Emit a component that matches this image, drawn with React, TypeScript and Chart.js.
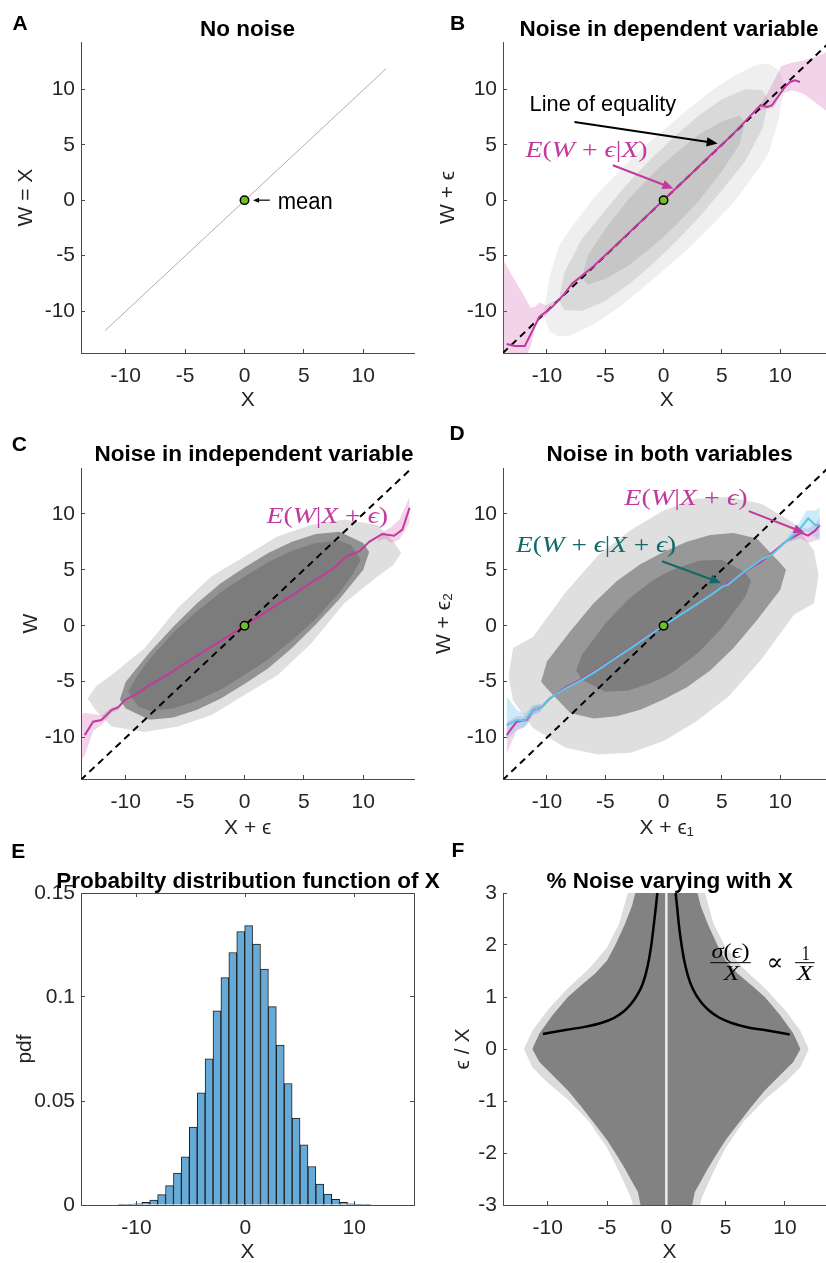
import React, { useEffect, useRef } from 'react';
import { Chart, registerables } from 'chart.js';

Chart.register(...registerables);

const SANS = "'Liberation Sans', Arial, Helvetica, sans-serif";
const SERIF = "'Liberation Serif', 'DejaVu Serif', 'Times New Roman', serif";
const AXIS = '#4a4a4a';
const TXT = '#262626';
const MAGENTA = 'rgb(194,58,158)';
const PINK_BAND = 'rgba(205,80,170,0.25)';
const CYAN = 'rgb(88,200,232)';
const BLUE_BAND = 'rgba(110,195,235,0.35)';
const TEAL = 'rgb(18,105,105)';
const GREEN = 'rgb(112,190,40)';

// ---------- axis ranges & ticks ----------
const X_RANGE = [-13.77, 14.3];
const AB_Y_RANGE = [-13.78, 14.26];
const CD_Y_RANGE = [-13.7, 14.1];
const E_X_RANGE = [-15.1, 15.5];
const E_Y_RANGE = [0, 0.15];
const F_Y_RANGE = [-3, 3];

const xyTicks = [-10, -5, 0, 5, 10];
const xyTickLabels = ['-10', '-5', '0', '5', '10'];
const eXTicks = [-10, 0, 10];
const eXTickLabels = ['-10', '0', '10'];
const eYTicks = [0, 0.05, 0.1, 0.15];
const eYTickLabels = ['0', '0.05', '0.1', '0.15'];
const fYTicks = [-3, -2, -1, 0, 1, 2, 3];
const fYTickLabels = ['-3', '-2', '-1', '0', '1', '2', '3'];

// ---------- panel A ----------
const aLineX = [-11.75, 11.93];
const aLineY = [-11.77, 11.86];
const meanX = [0];
const meanY = [0];

// ---------- equality line (B, C, D) ----------
const eqX = [-13.8, 14.3];
const eqY = [-13.8, 14.3];

// ---------- panel B (cloud envelopes: sparse, mid, dense) ----------
const bFringeX = [-10.3, -9.8, -9, -8, -6, -4, -2, 0, 2, 4, 6, 8, 9, 9.8, 10.4];
const bFringeUp = [-10.3, -7.0, -4.2, -2.6, 0.2, 2.4, 4.5, 6.3, 8.1, 9.8, 11.2, 12.2, 12.3, 11.8, 10.4];
const bFringeLo = [-10.3, -11.8, -12.3, -12.2, -11.2, -9.8, -8.1, -6.3, -4.5, -2.4, -0.2, 2.6, 4.2, 7.0, 10.4];
const bMidX = [-9, -8.5, -7, -5, -3, -1, 0, 1, 3, 5, 7, 8.5, 9];
const bMidUp = [-9, -6.5, -3.5, -0.9, 1.6, 3.8, 4.8, 5.8, 7.6, 9.1, 10.0, 9.9, 9];
const bMidLo = [-9, -9.9, -10.0, -9.1, -7.6, -5.8, -4.8, -3.8, -1.6, 0.9, 3.5, 6.5, 9];
const bCoreX = [-7, -6.5, -5, -3, -1, 0, 1, 3, 5, 6.5, 7];
const bCoreUp = [-7, -5.0, -2.6, 0.1, 2.3, 3.3, 4.2, 5.9, 7.1, 7.6, 7];
const bCoreLo = [-7, -7.6, -7.1, -5.9, -4.2, -3.3, -2.3, -0.1, 2.6, 5.0, 7];
const bBandLX = [-13.8, -13.0, -12.2, -11.4, -11.0, -10.6, -10.1, -9.3];
const bBandLUp = [-5.3, -6.8, -8.2, -9.7, -9.6, -9.2, -9.5, -9.1];
const bBandLLo = [-15, -15, -15, -13.2, -11.3, -10.8, -10.4, -9.4];
const bBandRX = [7.9, 8.6, 9.4, 10.1, 11.0, 12.0, 13.0, 14.3];
const bBandRUp = [8.1, 9.1, 10.6, 12.1, 12.4, 12.6, 12.9, 13.5];
const bBandRLo = [8.0, 8.2, 8.3, 9.6, 9.9, 9.6, 8.8, 7.8];
const bMeanX = [-13.46, -12.75, -11.9, -11.35, -10.65, -10.08, -9.52, -8.5, -7.84, -7.27, -6, -4, -2, 0, 2, 4, 6, 7, 7.62, 8.32, 8.9, 9.3, 10.4, 10.85, 11.27, 11.7];
const bMeanY = [-12.97, -13.15, -13.15, -12.0, -10.5, -10.07, -9.6, -8.45, -7.5, -7.05, -5.95, -3.97, -1.98, 0.02, 2.0, 4.02, 6.0, 7.1, 7.8, 8.56, 8.4, 8.56, 10.2, 10.66, 10.8, 10.66];

// ---------- panel C ----------
const cFringeX = [-13.2, -12.5, -11.2, -8.4, -5.6, -2.8, 0, 2.8, 5.6, 8.4, 11.2, 12.5, 13.2];
const cFringeUp = [-6.5, -5.4, -4.4, -2.0, 1.6, 4.4, 6.2, 8.0, 9.0, 9.5, 9.0, 7.6, 6.5];
const cFringeLo = [-6.5, -7.6, -9.0, -9.5, -9.0, -8.0, -6.2, -4.4, -1.6, 2.0, 4.4, 5.4, 6.5];
const cMidX = [-10.5, -10, -8, -6, -4, -2, 0, 2, 4, 6, 8, 10, 10.5];
const cMidUp = [-6.6, -5.0, -2.4, -0.1, 2.0, 3.8, 5.2, 6.5, 7.5, 8.2, 8.4, 7.4, 6.6];
const cMidLo = [-6.6, -7.4, -8.4, -8.2, -7.5, -6.5, -5.2, -3.8, -2.0, 0.1, 2.4, 5.0, 6.6];
const cCoreX = [-9.8, -9, -8, -6, -4, -2, 0, 2, 4, 6, 8, 9, 9.8];
const cCoreUp = [-5.9, -4.4, -3.0, -0.6, 1.3, 3.0, 4.4, 5.7, 6.7, 7.4, 7.6, 7.2, 5.9];
const cCoreLo = [-5.9, -7.2, -7.6, -7.4, -6.7, -5.7, -4.4, -3.0, -1.3, 0.6, 3.0, 4.4, 5.9];
const cBandLX = [-13.75, -13.45, -12.75, -12.05, -11.2, -10.6];
const cBandLUp = [-7.9, -7.8, -7.9, -8.0, -7.3, -7.1];
const cBandLLo = [-12.0, -11.6, -9.4, -8.9, -7.8, -7.5];
const cBandRX = [11.2, 11.8, 12.35, 13.05, 13.9];
const cBandRUp = [7.8, 8.5, 8.8, 9.5, 11.5];
const cBandRLo = [7.5, 7.8, 7.4, 7.7, 9.2];
const cMeanX = [-13.45, -12.75, -12.05, -11.2, -10.64, -10.08, -9, -8, -7.5, -7, -6, -5, -4, -3, -2, -1, 0, 1, 2, 3, 4, 5, 5.6, 6.5, 7.3, 7.85, 8.57, 9.69, 10.5, 11.6, 12.6, 13.3, 13.9];
const cMeanY = [-9.78, -8.58, -8.43, -7.54, -7.3, -6.64, -6.05, -5.3, -5.0, -4.7, -4.05, -3.35, -2.7, -2.0, -1.35, -0.68, 0, 0.68, 1.37, 2.05, 2.72, 3.42, 3.83, 4.45, 5.0, 5.47, 6.2, 6.67, 7.5, 8.2, 8.05, 8.6, 10.55];

// ---------- panel D ----------
const dFringeX = [-13.3, -12.9, -11.2, -8.4, -5.6, -2.8, 0, 2.8, 5.6, 8.4, 11.2, 12.9, 13.3];
const dFringeUp = [-4.5, -2.0, -1.0, 3.0, 6.3, 8.55, 10.3, 11.35, 11.5, 10.9, 9.15, 6.7, 4.5];
const dFringeLo = [-4.5, -6.7, -9.15, -10.9, -11.5, -11.35, -10.3, -8.55, -6.3, -3.0, 1.0, 2.0, 4.5];
const dMidX = [-10.5, -10, -8, -6, -4, -2, 0, 2, 4, 6, 8, 10, 10.5];
const dMidUp = [-5.0, -3.2, -0.5, 2.0, 4.0, 5.5, 6.6, 7.5, 8.1, 8.3, 7.8, 5.6, 5.0];
const dMidLo = [-5.0, -5.6, -7.8, -8.3, -8.1, -7.5, -6.6, -5.5, -4.0, -2.0, 0.5, 3.2, 5.0];
const dCoreX = [-7.5, -7, -5, -3, -1, 0, 1, 3, 5, 7, 7.5];
const dCoreUp = [-4.0, -2.6, 0.2, 2.4, 4.0, 4.6, 5.1, 5.8, 5.9, 4.8, 4.0];
const dCoreLo = [-4.0, -4.8, -5.9, -5.8, -5.1, -4.6, -4.0, -2.4, -0.2, 2.6, 4.0];
const dBlueLX = [-13.46, -12.6, -11.9, -11.2, -10.5];
const dBlueLUp = [-6.3, -7.5, -7.9, -7.1, -7.0];
const dBlueLLo = [-10.2, -9.3, -9.1, -8.0, -7.7];
const dBlueRX = [10.7, 11.56, 12.26, 12.96, 13.4];
const dBlueRUp = [8.0, 9.1, 10.3, 10.3, 10.6];
const dBlueRLo = [7.4, 7.9, 8.5, 7.9, 7.8];
const dPinkLX = [-13.46, -12.6, -11.76, -11.2, -10.5];
const dPinkLUp = [-8.6, -8.1, -8.1, -7.2, -7.0];
const dPinkLLo = [-11.4, -9.4, -8.9, -7.9, -7.6];
const dPinkRX = [10.7, 11.8, 12.4, 13.0, 13.4];
const dPinkRUp = [7.9, 8.7, 8.7, 9.1, 9.7];
const dPinkRLo = [7.5, 7.8, 7.4, 7.6, 7.7];
const dMagX = [-13.46, -12.6, -11.76, -11.2, -10.5, -9.8, -8.4, -7.0, -5.6, -4.2, -2.8, -1.4, 0, 1.4, 2.8, 4.2, 5.08, 6.8, 7.6, 8.4, 9.3, 10.7, 11.8, 12.4, 13.0, 13.4];
const dMagY = [-9.78, -8.58, -8.43, -7.54, -7.33, -6.55, -5.5, -4.75, -3.88, -2.9, -1.95, -0.95, 0, 0.98, 1.9, 2.85, 3.5, 4.65, 5.25, 5.75, 6.5, 7.7, 8.3, 8.05, 8.5, 9.0];
const dCyanX = [-13.46, -12.6, -11.9, -11.21, -10.5, -9.8, -8.4, -7.0, -5.6, -4.2, -2.8, -1.4, 0, 1.4, 2.8, 4.2, 5.08, 5.5, 6.8, 8.4, 9.3, 10.7, 11.56, 12.4, 13.0, 13.4];
const dCyanY = [-8.88, -8.43, -8.52, -7.54, -7.33, -6.5, -5.59, -4.84, -3.95, -2.95, -2.0, -0.98, 0, 0.95, 1.88, 2.85, 3.52, 3.65, 4.73, 5.92, 6.37, 7.7, 8.46, 9.6, 9.0, 9.0];

// ---------- panel E (histogram of X) ----------
const eBinCenter = [-11.329, -10.602, -9.875, -9.148, -8.421, -7.694, -6.967, -6.240, -5.513, -4.786, -4.059, -3.332, -2.605, -1.878, -1.151, -0.424, 0.303, 1.030, 1.757, 2.484, 3.211, 3.938, 4.665, 5.392, 6.119, 6.846, 7.573, 8.300, 9.027, 9.754, 10.481, 11.208];
const eBinPdf = [0.0002, 0.0003, 0.0006, 0.0013, 0.0024, 0.0050, 0.0093, 0.0153, 0.0232, 0.0375, 0.0539, 0.0703, 0.0933, 0.1093, 0.1214, 0.1315, 0.1343, 0.1254, 0.1134, 0.0954, 0.0769, 0.0584, 0.0418, 0.0289, 0.0185, 0.0101, 0.0053, 0.0027, 0.0013, 0.0006, 0.0003, 0.0002];

// ---------- panel F ----------
const fFringeX = [-12.0, -11.3, -10, -8.4, -6.5, -5, -4, -3.0, -2.6, 0, 2.6, 3.0, 4, 5, 6.5, 8.4, 10, 11.3, 12.0];
const fFringeUp = [0, 0.35, 0.75, 1.15, 1.55, 1.95, 2.4, 3.2, 3.2, 3.2, 3.2, 3.2, 2.4, 1.95, 1.55, 1.15, 0.75, 0.35, 0];
const fFringeLo = [0, -0.35, -0.65, -0.95, -1.4, -1.9, -2.35, -2.85, -3.2, -3.2, -3.2, -2.85, -2.35, -1.9, -1.4, -0.95, -0.65, -0.35, 0];
const fCoreX = [-11.3, -10.7, -9.6, -8.3, -7.2, -6, -5, -4.3, -3.5, -2.9, -2.4, -2.0, 0, 2.0, 2.4, 2.9, 3.5, 4.3, 5, 6, 7.2, 8.3, 9.6, 10.7, 11.3];
const fCoreUp = [0, 0.3, 0.65, 1.0, 1.22, 1.45, 1.7, 2.0, 2.4, 2.75, 3.2, 3.2, 3.2, 3.2, 3.2, 2.75, 2.4, 2.0, 1.7, 1.45, 1.22, 1.0, 0.65, 0.3, 0];
const fCoreLo = [0, -0.25, -0.5, -0.8, -1.1, -1.45, -1.75, -2.0, -2.3, -2.55, -2.75, -3.2, -3.2, -3.2, -2.75, -2.55, -2.3, -2.0, -1.75, -1.45, -1.1, -0.8, -0.5, -0.25, 0];
const fStripeX = [0, 0];
const fStripeY = [-3, 3];
const fLeftX = [-10.4, -8.4, -6.8, -5.5, -4.4, -3.6, -3.0, -2.5, -2.0, -1.6, -1.3, -1.05, -0.9, -0.76];
const fLeftY = [0.29, 0.37, 0.43, 0.5, 0.6, 0.72, 0.86, 1.02, 1.25, 1.57, 1.95, 2.4, 2.7, 3.0];
const fRightX = [0.78, 0.9, 1.05, 1.3, 1.6, 2.0, 2.5, 3.0, 3.6, 4.4, 5.5, 6.8, 8.4, 10.4];
const fRightY = [3.0, 2.75, 2.4, 1.97, 1.6, 1.28, 1.04, 0.88, 0.74, 0.61, 0.5, 0.42, 0.36, 0.28];

// ---------- helpers ----------
type Part = { t: string; i?: boolean; f?: string };
type Note =
  | { kind: 'text'; x: number; y: number; parts: Part[]; size: number; width?: number; color: string; align?: 'left' | 'center' }
  | { kind: 'arrow'; x1: number; y1: number; x2: number; y2: number; color: string; lw: number; head: number }
  | { kind: 'rule'; x1: number; x2: number; y: number; color: string; lw: number };

const pts = (xs: number[], ys: number[]) => xs.map((x, i) => ({ x, y: ys[i] }));

const lineDs = (xs: number[], ys: number[], color: string, width: number, extra: any = {}) => ({
  type: 'line',
  data: pts(xs, ys),
  borderColor: color,
  borderWidth: width,
  pointRadius: 0,
  fill: false,
  tension: 0,
  ...extra,
});

const areaDs = (xs: number[], up: number[], lo: number[], color: string) => [
  { type: 'line', data: pts(xs, up), borderColor: 'rgba(0,0,0,0)', borderWidth: 0, pointRadius: 0, fill: false },
  { type: 'line', data: pts(xs, lo), borderColor: 'rgba(0,0,0,0)', borderWidth: 0, pointRadius: 0, fill: '-1', backgroundColor: color },
];

const meanDs = () => ({
  type: 'line',
  data: pts(meanX, meanY),
  showLine: false,
  pointRadius: 4.2,
  pointBackgroundColor: GREEN,
  pointBorderColor: '#000',
  pointBorderWidth: 1.5,
});

const withOrder = (ds: any[]) => ds.map((d, i) => ({ ...d, order: ds.length - i }));

function drawParts(ctx: CanvasRenderingContext2D, n: any, px: number, py: number) {
  const fonts = n.parts.map((p: Part) => `${p.i ? 'italic ' : ''}${n.size}px ${p.f ?? SERIF}`);
  const widths = n.parts.map((p: Part, k: number) => {
    ctx.font = fonts[k];
    return ctx.measureText(p.t).width;
  });
  const total = widths.reduce((a: number, b: number) => a + b, 0);
  const sx = n.width ? n.width / total : 1;
  const x0 = n.align === 'center' ? px - (total * sx) / 2 : px;
  ctx.save();
  ctx.fillStyle = n.color;
  ctx.textBaseline = 'alphabetic';
  ctx.textAlign = 'left';
  ctx.translate(x0, py);
  ctx.scale(sx, 1);
  let cx = 0;
  n.parts.forEach((p: Part, k: number) => {
    ctx.font = fonts[k];
    ctx.fillText(p.t, cx, 0);
    cx += widths[k];
  });
  ctx.restore();
}

const notesPlugin = (notes: Note[]) => ({
  id: 'notes',
  afterDatasetsDraw(chart: any) {
    const { ctx } = chart;
    const sx = chart.scales.x;
    const sy = chart.scales.y;
    const X = (v: number) => sx.getPixelForValue(v);
    const Y = (v: number) => sy.getPixelForValue(v);
    ctx.save();
    for (const n of notes) {
      if (n.kind === 'text') {
        drawParts(ctx, n, X(n.x), Y(n.y));
      } else if (n.kind === 'rule') {
        ctx.strokeStyle = n.color;
        ctx.lineWidth = n.lw;
        ctx.beginPath();
        ctx.moveTo(X(n.x1), Y(n.y));
        ctx.lineTo(X(n.x2), Y(n.y));
        ctx.stroke();
      } else {
        const x1 = X(n.x1), y1 = Y(n.y1), x2 = X(n.x2), y2 = Y(n.y2);
        const a = Math.atan2(y2 - y1, x2 - x1);
        const c = Math.cos(a), s = Math.sin(a);
        ctx.strokeStyle = n.color;
        ctx.fillStyle = n.color;
        ctx.lineWidth = n.lw;
        ctx.beginPath();
        ctx.moveTo(x1, y1);
        ctx.lineTo(x2 - c * n.head * 0.7, y2 - s * n.head * 0.7);
        ctx.stroke();
        const hw = n.head * 0.42;
        ctx.beginPath();
        ctx.moveTo(x2, y2);
        ctx.lineTo(x2 - n.head * c + hw * s, y2 - n.head * s - hw * c);
        ctx.lineTo(x2 - n.head * c - hw * s, y2 - n.head * s + hw * c);
        ctx.closePath();
        ctx.fill();
      }
    }
    ctx.restore();
  },
});

type AxisOpts = {
  pos: 'left' | 'bottom' | 'top' | 'right';
  range: number[];
  ticks: number[];
  labels: string[];
  size: number;
  showLabels: boolean;
  title?: string;
  titlePad?: number;
  labelPad?: number;
};

function axis(o: AxisOpts) {
  const horizontal = o.pos === 'bottom' || o.pos === 'top';
  return {
    type: 'linear',
    position: o.pos,
    min: o.range[0],
    max: o.range[1],
    offset: false,
    afterBuildTicks: (s: any) => {
      s.ticks = o.ticks.map((v) => ({ value: v }));
    },
    afterFit: (s: any) => {
      if (horizontal) s.height = o.size;
      else s.width = o.size;
      s.paddingLeft = 0;
      s.paddingRight = 0;
      s.paddingTop = 0;
      s.paddingBottom = 0;
    },
    grid: { display: true, drawOnChartArea: false, drawTicks: true, tickLength: -4, tickColor: AXIS, tickWidth: 1, offset: false },
    border: { display: true, color: AXIS, width: 1 },
    ticks: {
      display: o.showLabels,
      autoSkip: false,
      maxRotation: 0,
      minRotation: 0,
      padding: o.labelPad ?? 10,
      color: TXT,
      font: { family: SANS, size: 21 },
      callback: (v: number) => {
        const i = o.ticks.indexOf(v);
        return i >= 0 ? o.labels[i] : '';
      },
    },
    title: o.title
      ? {
          display: true,
          text: o.title,
          color: TXT,
          font: { family: SANS, size: 21 },
          padding: horizontal ? { top: 0, bottom: o.titlePad ?? 0 } : { top: o.titlePad ?? 0, bottom: 0 },
        }
      : { display: false },
  };
}

type Geo = { left: number; top: number; w: number; h: number; padTop: number; padRight: number; yW: number; xH: number };

const baseOptions = (g: Geo, scales: any) => ({
  responsive: false,
  animation: false,
  devicePixelRatio: 1,
  events: [],
  layout: { padding: { left: 0, right: g.padRight, top: g.padTop, bottom: 0 } },
  plugins: { legend: { display: false }, tooltip: { enabled: false }, title: { display: false } },
  scales,
});

const X_LABEL_PAD = 15;

function scatterScales(g: Geo, yRange: number[], xTitle: string, yTitle: string, yTitlePad: number, xTitlePad: number, yTicks = xyTicks, yLabels = xyTickLabels) {
  return {
    x: axis({ pos: 'bottom', range: X_RANGE, ticks: xyTicks, labels: xyTickLabels, size: g.xH, showLabels: true, title: xTitle, titlePad: xTitlePad, labelPad: X_LABEL_PAD }),
    y: axis({ pos: 'left', range: yRange, ticks: yTicks, labels: yLabels, size: g.yW, showLabels: true, title: yTitle, titlePad: yTitlePad }),
  };
}

// ---------- geometry ----------
const GEO_A: Geo = { left: 0, top: 0, w: 420, h: 413, padTop: 42, padRight: 5, yW: 81, xH: 60 };
const GEO_B: Geo = { left: 413, top: 0, w: 423, h: 413, padTop: 42, padRight: 0, yW: 90, xH: 60 };
const GEO_C: Geo = { left: 0, top: 420, w: 420, h: 422, padTop: 48, padRight: 5, yW: 81, xH: 63 };
const GEO_D: Geo = { left: 413, top: 420, w: 423, h: 422, padTop: 48, padRight: 0, yW: 90, xH: 63 };
const GEO_E: Geo = { left: 0, top: 880, w: 420, h: 385, padTop: 13, padRight: 6, yW: 81, xH: 60 };
const GEO_F: Geo = { left: 413, top: 880, w: 423, h: 385, padTop: 13, padRight: 0, yW: 90, xH: 60 };

const eqDs = () => lineDs(eqX, eqY, '#000', 2, { borderDash: [7, 5] });

const mathEWeX: Part[] = [{ t: 'E', i: true }, { t: '(' }, { t: 'W', i: true }, { t: ' + ' }, { t: 'ϵ', i: true }, { t: '|' }, { t: 'X', i: true }, { t: ')' }];
const mathEWXe: Part[] = [{ t: 'E', i: true }, { t: '(' }, { t: 'W', i: true }, { t: '|' }, { t: 'X', i: true }, { t: ' + ' }, { t: 'ϵ', i: true }, { t: ')' }];
const mathEWeXe: Part[] = [{ t: 'E', i: true }, { t: '(' }, { t: 'W', i: true }, { t: ' + ' }, { t: 'ϵ', i: true }, { t: '|' }, { t: 'X', i: true }, { t: ' + ' }, { t: 'ϵ', i: true }, { t: ')' }];

function configA() {
  const g = GEO_A;
  return {
    type: 'line',
    data: { datasets: withOrder([lineDs(aLineX, aLineY, 'rgb(175,175,175)', 1), meanDs()]) },
    options: baseOptions(g, scatterScales(g, AB_Y_RANGE, 'X', 'W = X', 13.2, 0)),
    plugins: [
      notesPlugin([
        { kind: 'arrow', x1: 2.13, y1: 0, x2: 0.72, y2: 0, color: '#000', lw: 1.2, head: 6 },
        { kind: 'text', x: 2.8, y: -0.84, parts: [{ t: 'mean', f: SANS }], size: 23, width: 55, color: '#000' },
      ]),
    ],
  };
}

function configB() {
  const g = GEO_B;
  return {
    type: 'line',
    data: {
      datasets: withOrder([
        ...areaDs(bFringeX, bFringeUp, bFringeLo, 'rgba(190,190,190,0.25)'),
        ...areaDs(bMidX, bMidUp, bMidLo, 'rgba(190,190,190,0.45)'),
        ...areaDs(bCoreX, bCoreUp, bCoreLo, 'rgba(180,180,180,0.5)'),
        ...areaDs(bBandLX, bBandLUp, bBandLLo, PINK_BAND),
        ...areaDs(bBandRX, bBandRUp, bBandRLo, PINK_BAND),
        eqDs(),
        lineDs(bMeanX, bMeanY, MAGENTA, 2),
        meanDs(),
      ]),
    },
    options: baseOptions(g, scatterScales(g, AB_Y_RANGE, 'X', 'W + ϵ', 22.4, 0)),
    plugins: [
      notesPlugin([
        { kind: 'text', x: -11.49, y: 8.02, parts: [{ t: 'Line of equality', f: SANS }], size: 22, width: 146.6, color: '#000' },
        { kind: 'arrow', x1: -7.64, y1: 7.05, x2: 4.64, y2: 5.11, color: '#000', lw: 2, head: 11 },
        { kind: 'text', x: -11.83, y: 3.87, parts: mathEWeX, size: 23, width: 122, color: MAGENTA },
        { kind: 'arrow', x1: -4.35, y1: 3.15, x2: 0.84, y2: 1.05, color: MAGENTA, lw: 2, head: 11 },
      ]),
    ],
  };
}

function configC() {
  const g = GEO_C;
  return {
    type: 'line',
    data: {
      datasets: withOrder([
        ...areaDs(cFringeX, cFringeUp, cFringeLo, 'rgba(128,128,128,0.25)'),
        ...areaDs(cMidX, cMidUp, cMidLo, 'rgba(128,128,128,0.8)'),
        ...areaDs(cCoreX, cCoreUp, cCoreLo, 'rgba(115,115,115,0.7)'),
        ...areaDs(cBandLX, cBandLUp, cBandLLo, PINK_BAND),
        ...areaDs(cBandRX, cBandRUp, cBandRLo, PINK_BAND),
        lineDs(cMeanX, cMeanY, MAGENTA, 2),
        eqDs(),
        meanDs(),
      ]),
    },
    options: baseOptions(g, scatterScales(g, CD_Y_RANGE, 'X + ϵ', 'W', 18.9, 1)),
    plugins: [notesPlugin([{ kind: 'text', x: 1.85, y: 9.15, parts: mathEWXe, size: 23, width: 121.6, color: MAGENTA }])],
  };
}

function configD() {
  const g = GEO_D;
  return {
    type: 'line',
    data: {
      datasets: withOrder([
        ...areaDs(dFringeX, dFringeUp, dFringeLo, 'rgba(128,128,128,0.25)'),
        ...areaDs(dMidX, dMidUp, dMidLo, 'rgba(128,128,128,0.75)'),
        ...areaDs(dCoreX, dCoreUp, dCoreLo, 'rgba(115,115,115,0.7)'),
        ...areaDs(dPinkLX, dPinkLUp, dPinkLLo, PINK_BAND),
        ...areaDs(dPinkRX, dPinkRUp, dPinkRLo, PINK_BAND),
        ...areaDs(dBlueLX, dBlueLUp, dBlueLLo, BLUE_BAND),
        ...areaDs(dBlueRX, dBlueRUp, dBlueRLo, BLUE_BAND),
        eqDs(),
        lineDs(dMagX, dMagY, MAGENTA, 2),
        lineDs(dCyanX, dCyanY, CYAN, 2),
        meanDs(),
      ]),
    },
    options: baseOptions(g, scatterScales(g, CD_Y_RANGE, 'X + ϵ₁', 'W + ϵ₂', 18.4, 1)),
    plugins: [
      notesPlugin([
        { kind: 'text', x: -3.37, y: 10.76, parts: mathEWXe, size: 23, width: 123.4, color: MAGENTA },
        { kind: 'arrow', x1: 7.31, y1: 10.25, x2: 12.09, y2: 8.31, color: MAGENTA, lw: 2, head: 11 },
        { kind: 'text', x: -12.65, y: 6.57, parts: mathEWeXe, size: 23, width: 160, color: TEAL },
        { kind: 'arrow', x1: -0.13, y1: 5.77, x2: 4.92, y2: 3.83, color: TEAL, lw: 2, head: 11 },
      ]),
    ],
  };
}

function configE() {
  const g = GEO_E;
  return {
    type: 'bar',
    data: {
      datasets: [
        {
          data: pts(eBinCenter, eBinPdf),
          backgroundColor: 'rgb(102,170,215)',
          borderColor: 'rgb(30,30,30)',
          borderWidth: 1,
          barPercentage: 1,
          categoryPercentage: 1,
          grouped: false,
        },
      ],
    },
    options: baseOptions(g, {
      x: axis({ pos: 'bottom', range: E_X_RANGE, ticks: eXTicks, labels: eXTickLabels, size: g.xH, showLabels: true, title: 'X', titlePad: 0, labelPad: X_LABEL_PAD }),
      y: axis({ pos: 'left', range: E_Y_RANGE, ticks: eYTicks, labels: eYTickLabels, size: g.yW, showLabels: true, title: 'pdf', titlePad: 12.4 }),
      x2: axis({ pos: 'top', range: E_X_RANGE, ticks: eXTicks, labels: eXTickLabels, size: 0, showLabels: false }),
      y2: axis({ pos: 'right', range: E_Y_RANGE, ticks: eYTicks, labels: eYTickLabels, size: 0, showLabels: false }),
    }),
  };
}

function configF() {
  const g = GEO_F;
  return {
    type: 'line',
    data: {
      datasets: withOrder([
        ...areaDs(fFringeX, fFringeUp, fFringeLo, 'rgba(128,128,128,0.28)'),
        ...areaDs(fCoreX, fCoreUp, fCoreLo, 'rgb(130,130,130)'),
        lineDs(fStripeX, fStripeY, 'rgba(255,255,255,0.85)', 2.5),
        lineDs(fLeftX, fLeftY, '#000', 2.5, { cubicInterpolationMode: 'monotone' }),
        lineDs(fRightX, fRightY, '#000', 2.5, { cubicInterpolationMode: 'monotone' }),
      ]),
    },
    options: baseOptions(g, scatterScales(g, F_Y_RANGE, 'X', 'ϵ / X', 37.9, 0, fYTicks, fYTickLabels)),
    plugins: [
      notesPlugin([
        { kind: 'text', x: 5.41, y: 1.75, parts: [{ t: 'σ', i: true }, { t: '(' }, { t: 'ϵ', i: true }, { t: ')' }], size: 21, width: 38, color: '#000', align: 'center' },
        { kind: 'rule', x1: 3.7, x2: 7.12, y: 1.66, color: '#000', lw: 1 },
        { kind: 'text', x: 5.5, y: 1.33, parts: [{ t: 'X', i: true }], size: 21, width: 16, color: '#000', align: 'center' },
        { kind: 'text', x: 9.14, y: 1.51, parts: [{ t: '∝' }], size: 24, width: 17, color: '#000', align: 'center' },
        { kind: 'text', x: 11.75, y: 1.71, parts: [{ t: '1' }], size: 21, width: 8, color: '#000', align: 'center' },
        { kind: 'rule', x1: 10.85, x2: 12.5, y: 1.66, color: '#000', lw: 1 },
        { kind: 'text', x: 11.67, y: 1.33, parts: [{ t: 'X', i: true }], size: 21, width: 16, color: '#000', align: 'center' },
      ]),
    ],
  };
}

function Panel({ geo, make }: { geo: Geo; make: () => any }) {
  const ref = useRef<HTMLCanvasElement>(null);
  useEffect(() => {
    const chart = new Chart(ref.current as HTMLCanvasElement, make());
    return () => chart.destroy();
  }, []);
  return (
    <canvas
      ref={ref}
      width={geo.w}
      height={geo.h}
      style={{ position: 'absolute', left: geo.left, top: geo.top, width: geo.w, height: geo.h }}
    />
  );
}

const panelLetters = [
  { t: 'A', x: 12.5, y: 12.3 },
  { t: 'B', x: 450, y: 12.3 },
  { t: 'C', x: 11.7, y: 433 },
  { t: 'D', x: 449.5, y: 422.3 },
  { t: 'E', x: 11.2, y: 840.3 },
  { t: 'F', x: 451.5, y: 839.3 },
];

const panelTitles = [
  { t: 'No noise', cx: 247.5, y: 18.1 },
  { t: 'Noise in dependent variable', cx: 669, y: 18.1 },
  { t: 'Noise in independent variable', cx: 254, y: 443.1 },
  { t: 'Noise in both variables', cx: 669.7, y: 443.1 },
  { t: 'Probabilty distribution function of X', cx: 248, y: 870.4 },
  { t: '% Noise varying with X', cx: 669.7, y: 870.4 },
];

export default function App() {
  return (
    <div
      style={{
        position: 'absolute',
        left: 0,
        top: 0,
        width: 826,
        height: 1263,
        overflow: 'hidden',
        background: '#fff',
        fontFamily: SANS,
      }}
    >
      <Panel geo={GEO_A} make={configA} />
      <Panel geo={GEO_B} make={configB} />
      <Panel geo={GEO_C} make={configC} />
      <Panel geo={GEO_D} make={configD} />
      <Panel geo={GEO_E} make={configE} />
      <Panel geo={GEO_F} make={configF} />
      {panelTitles.map((p) => (
        <div
          key={p.t}
          style={{
            position: 'absolute',
            left: p.cx,
            top: p.y,
            transform: 'translateX(-50%)',
            whiteSpace: 'nowrap',
            fontWeight: 'bold',
            fontSize: 22.5,
            lineHeight: 1,
            color: '#000',
          }}
        >
          {p.t}
        </div>
      ))}
      {panelLetters.map((p) => (
        <div
          key={p.t}
          style={{
            position: 'absolute',
            left: p.x,
            top: p.y,
            fontWeight: 'bold',
            fontSize: 21,
            lineHeight: 1,
            color: '#000',
          }}
        >
          {p.t}
        </div>
      ))}
    </div>
  );
}
